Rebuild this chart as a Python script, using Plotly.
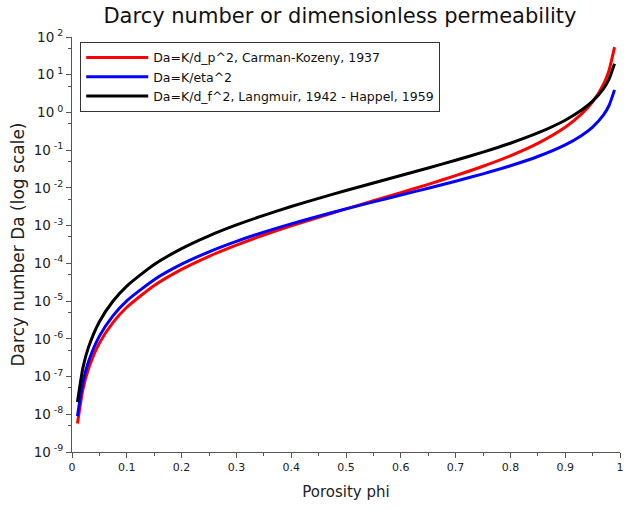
import plotly.graph_objects as go

porosity = [0.01, 0.02, 0.03, 0.05, 0.075, 0.1, 0.15, 0.2, 0.25, 0.3, 0.35, 0.4, 0.45, 0.5,
            0.55, 0.6, 0.65, 0.7, 0.75, 0.8, 0.85, 0.9, 0.93, 0.95, 0.97, 0.98, 0.99]

da_carman_kozeny = [5.67e-9, 4.63e-8, 1.594e-7, 7.69e-7, 2.739e-6, 6.86e-6, 2.595e-5, 6.94e-5,
                    1.543e-4, 3.061e-4, 5.638e-4, 9.877e-4, 1.6736e-3, 2.778e-3, 4.564e-3, 7.5e-3,
                    0.012455, 0.02117, 0.0375, 0.0711, 0.1516, 0.405, 0.912, 1.905, 5.634, 13.07, 53.91]

da_eta = [8.94e-9, 7.25e-8, 2.479e-7, 1.180e-6, 4.128e-6, 1.015e-5, 3.696e-5, 9.494e-5,
          2.022e-4, 3.831e-4, 6.716e-4, 1.1153e-3, 1.7834e-3, 2.778e-3, 4.255e-3, 6.464e-3,
          9.82e-3, 0.01506, 0.02362, 0.0386, 0.0679, 0.1385, 0.2459, 0.4104, 0.863, 1.529, 3.973]

da_langmuir_happel = [2.12e-8, 1.727e-7, 5.93e-7, 2.848e-6, 1.007e-5, 2.504e-5, 9.33e-5, 2.456e-4,
                      5.36e-4, 1.0424e-3, 1.878e-3, 3.211e-3, 5.294e-3, 8.518e-3, 0.013508, 0.021295,
                      0.033673, 0.053953, 0.088761, 0.152949, 0.285779, 0.62349, 1.15787, 1.9931,
                      4.3044, 7.6619, 19.532]

series_names = ["Da=K/d_p^2, Carman-Kozeny, 1937",
                "Da=K/eta^2",
                "Da=K/d_f^2, Langmuir, 1942 - Happel, 1959"]
series_colors = ["#ff0000", "#0000ff", "#000000"]

x_tick_vals = [0, 0.1, 0.2, 0.3, 0.4, 0.5, 0.6, 0.7, 0.8, 0.9, 1]
x_tick_text = ["0", "0.1", "0.2", "0.3", "0.4", "0.5", "0.6", "0.7", "0.8", "0.9", "1"]
y_exponents = [-9, -8, -7, -6, -5, -4, -3, -2, -1, 0, 1, 2]
y_tick_text = ["10<sup> %d</sup>" % e for e in y_exponents]

fig = go.Figure()
for name, ys, col in zip(series_names, [da_carman_kozeny, da_eta, da_langmuir_happel], series_colors):
    fig.add_trace(go.Scatter(x=porosity, y=ys, mode="lines", name=name,
                             line=dict(color=col, width=3, shape="spline", smoothing=0.6)))

font_family = "DejaVu Sans, Noto Sans, sans-serif"
fig.update_layout(
    width=627, height=509,
    margin=dict(l=72, r=7, t=37, b=57),
    paper_bgcolor="white", plot_bgcolor="white",
    font=dict(family=font_family, color="#222222"),
    title=dict(text="Darcy number or dimensionless permeability", xref="paper", x=0.489,
               xanchor="center", y=0.984, yanchor="top", font=dict(size=21, color="#111111")),
    showlegend=True,
    legend=dict(x=0.015, y=0.988, xanchor="left", yanchor="top", itemwidth=62,
                bgcolor="white", bordercolor="#333333", borderwidth=1,
                font=dict(size=12.5, color="#111111"), tracegroupgap=0),
)
fig.update_xaxes(
    range=[0, 1], tickvals=x_tick_vals, ticktext=x_tick_text, automargin=False,
    ticklabeloverflow="allow",
    showgrid=False, zeroline=False, showline=True, linecolor="#555555", linewidth=1,
    ticks="outside", ticklen=5, tickcolor="#555555",
    minor=dict(tickvals=[0.05, 0.15, 0.25, 0.35, 0.45, 0.55, 0.65, 0.75, 0.85, 0.95],
               ticks="outside", ticklen=3, tickcolor="#555555"),
    tickfont=dict(size=11, color="#222222"),
    title=dict(text="Porosity phi", font=dict(size=15, color="#222222"), standoff=13),
)
fig.update_yaxes(
    type="log", range=[-9, 2], automargin=False,
    tickvals=[10.0 ** e for e in y_exponents], ticktext=y_tick_text,
    showgrid=False, zeroline=False, showline=True, linecolor="#555555", linewidth=1,
    ticks="outside", ticklen=5, tickcolor="#555555",
    minor=dict(tickvals=[5 * 10.0 ** e for e in y_exponents[:-1]],
               ticks="outside", ticklen=3, tickcolor="#555555"),
    tickfont=dict(size=13.5, color="#222222"),
    title=dict(text="Darcy number Da (log scale)", font=dict(size=17, color="#222222"), standoff=4),
)

fig.write_html("out.html", config={"displayModeBar": False},
               post_script="document.body.style.margin='0';")
